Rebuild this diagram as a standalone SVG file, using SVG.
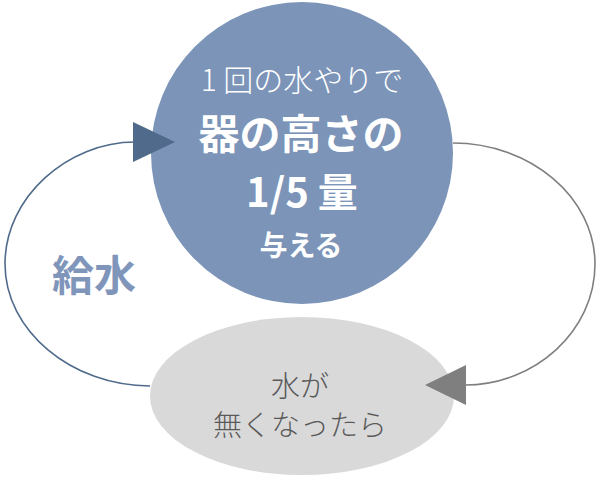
<svg xmlns="http://www.w3.org/2000/svg" width="600" height="486" viewBox="0 0 600 486">
<style>
text{font-family:"Noto Sans CJK JP","Noto Sans",sans-serif;text-anchor:middle}
.w{fill:#ffffff}
.g{fill:#595959;font-size:29px;font-weight:300}
</style>
<rect width="600" height="486" fill="#ffffff"/>
<g id="node-water">
<circle cx="302" cy="153" r="151" fill="#7b94b8"/>
<text class="w" x="302" y="91" font-size="30" font-weight="300">1 回の水やりで</text>
<text class="w" x="301" y="149" font-size="41" font-weight="700">器の高さの</text>
<text class="w" x="302" y="207" font-size="40" font-weight="700">1/5 量</text>
<text class="w" x="301" y="256" font-size="28" font-weight="700">与える</text>
</g>
<g id="node-empty">
<ellipse cx="302" cy="396" rx="152" ry="79" fill="#d9d9d9"/>
<text class="g" x="300" y="397">水が</text>
<text class="g" x="300" y="436">無くなったら</text>
</g>
<g id="label-kyusui">
<text x="94" y="291" font-size="42" font-weight="700" fill="#7f96ba">給水</text>
</g>
<g id="connectors" fill="none" stroke-width="1.6">
<path d="M150,386 C72,386 5,331 5,264 C5,197 68,142 135,142" stroke="#4f6a8a"/>
<polygon points="133,122 175,142 133,162" fill="#4f6a8a" stroke="none"/>
<path d="M453,143 C530,143 595,197 595,264 C595,331 535,385 465,385" stroke="#7f7f7f"/>
<polygon points="466,365 425,385 466,405" fill="#7f7f7f" stroke="none"/>
</g>
</svg>
